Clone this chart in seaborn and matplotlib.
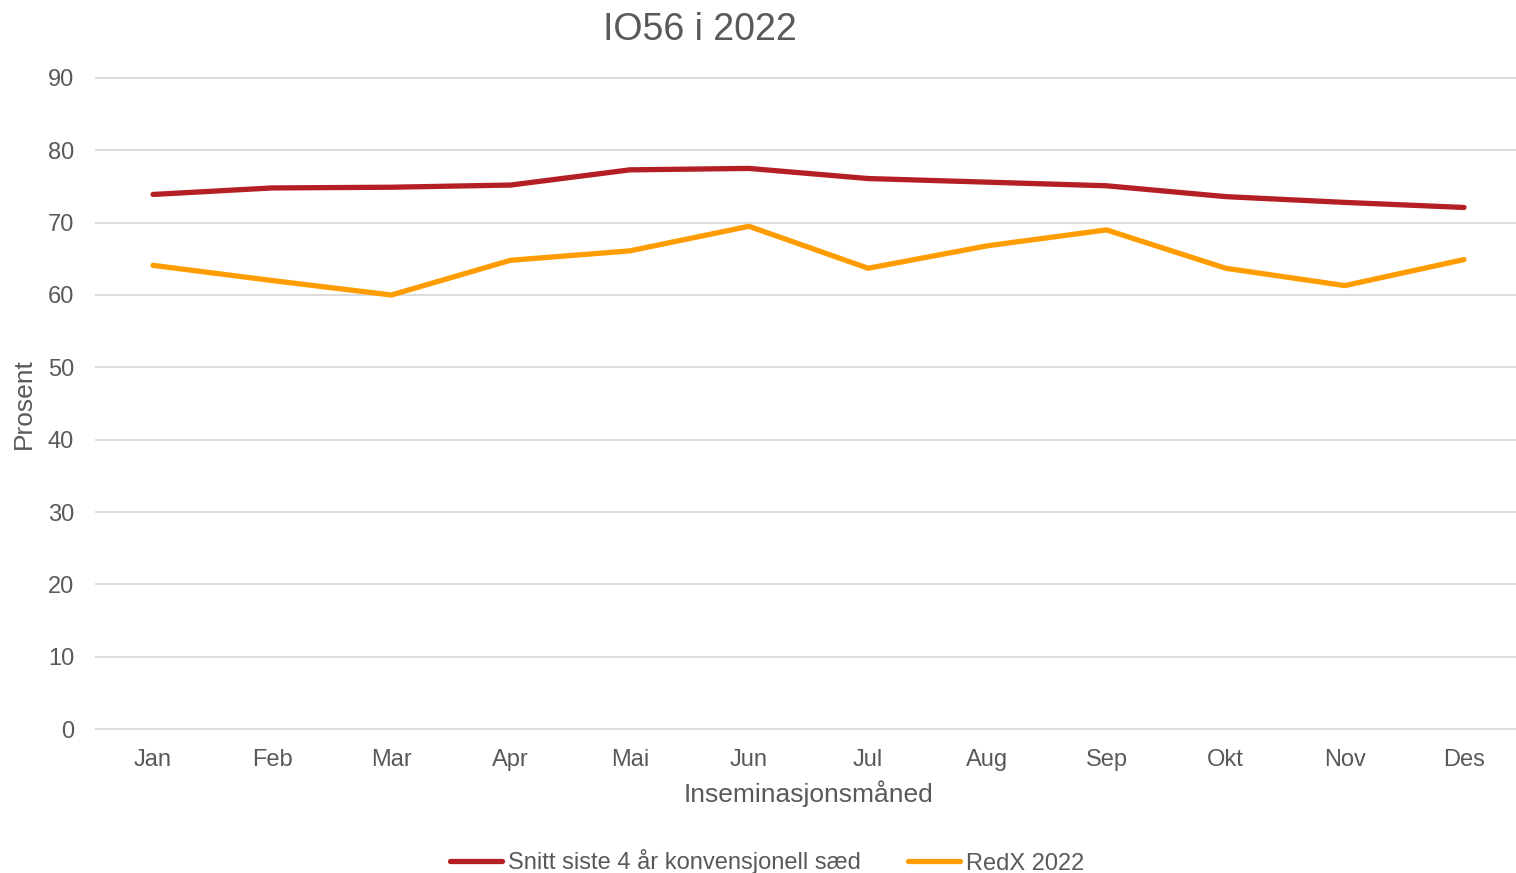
import pandas as pd
import seaborn as sns
import matplotlib.pyplot as plt

# Data
months = ['Jan', 'Feb', 'Mar', 'Apr', 'Mai', 'Jun', 'Jul', 'Aug', 'Sep', 'Okt', 'Nov', 'Des']
snitt_4_aar = [73.9, 74.8, 74.9, 75.2, 77.3, 77.5, 76.1, 75.6, 75.1, 73.6, 72.8, 72.1]
redx_2022 = [64.1, 62.0, 60.0, 64.8, 66.1, 69.5, 63.7, 66.8, 69.0, 63.7, 61.3, 64.9]
series_names = ['Snitt siste 4 år konvensjonell sæd', 'RedX 2022']

df = pd.DataFrame({
    'month': months * 2,
    'value': snitt_4_aar + redx_2022,
    'series': [series_names[0]] * len(months) + [series_names[1]] * len(months),
})

sns.set_style('white')
plt.rcParams['font.family'] = ['Liberation Sans', 'DejaVu Sans']
text_color = '#595959'

fig = plt.figure(figsize=(15.16, 8.73), dpi=100)
ax = fig.add_axes([95 / 1516, 0.1608, 1 - 95 / 1516, 0.9148 - 0.1608])

palette = {series_names[0]: '#B41F24', series_names[1]: '#FF9C00'}
sns.lineplot(data=df, x='month', y='value', hue='series', palette=palette,
             linewidth=3.8, sort=False, ax=ax, legend=True)

ax.set_ylim(-0.5, 90.5)
ax.set_yticks(range(0, 91, 10))
ax.set_xlim(-0.487, 11.436)
ax.grid(axis='y', color='#D9D9D9', linewidth=1.3)
ax.set_axisbelow(True)
for s in ax.spines.values():
    s.set_visible(False)
ax.tick_params(axis='y', length=0, pad=15, labelsize=17, labelcolor=text_color)
ax.tick_params(axis='x', length=0, pad=12, labelsize=17, labelcolor=text_color)
ax.set_xlabel('')
ax.set_ylabel('')

# Titles placed like the original
fig.text(700 / 1516, 1 - 30 / 873, 'IO56 i 2022', fontsize=27, color=text_color,
         ha='center', va='center')
fig.text(24 / 1516, 1 - 404 / 873, 'Prosent', fontsize=19, color=text_color,
         rotation=90, ha='center', va='center')
fig.text(808 / 1516, 1 - 794 / 873, 'Inseminasjonsmåned', fontsize=19, color=text_color,
         ha='center', va='center')

handles, labels = ax.get_legend_handles_labels()
ax.get_legend().remove()
leg = fig.legend(handles, labels, loc='center', bbox_to_anchor=(767 / 1516, 11 / 873),
                 ncol=2, frameon=False, fontsize=17, handlelength=2.2,
                 handletextpad=0.25, columnspacing=2.0)
for t in leg.get_texts():
    t.set_color(text_color)

fig.savefig('out.png', dpi=100)
plt.close()
